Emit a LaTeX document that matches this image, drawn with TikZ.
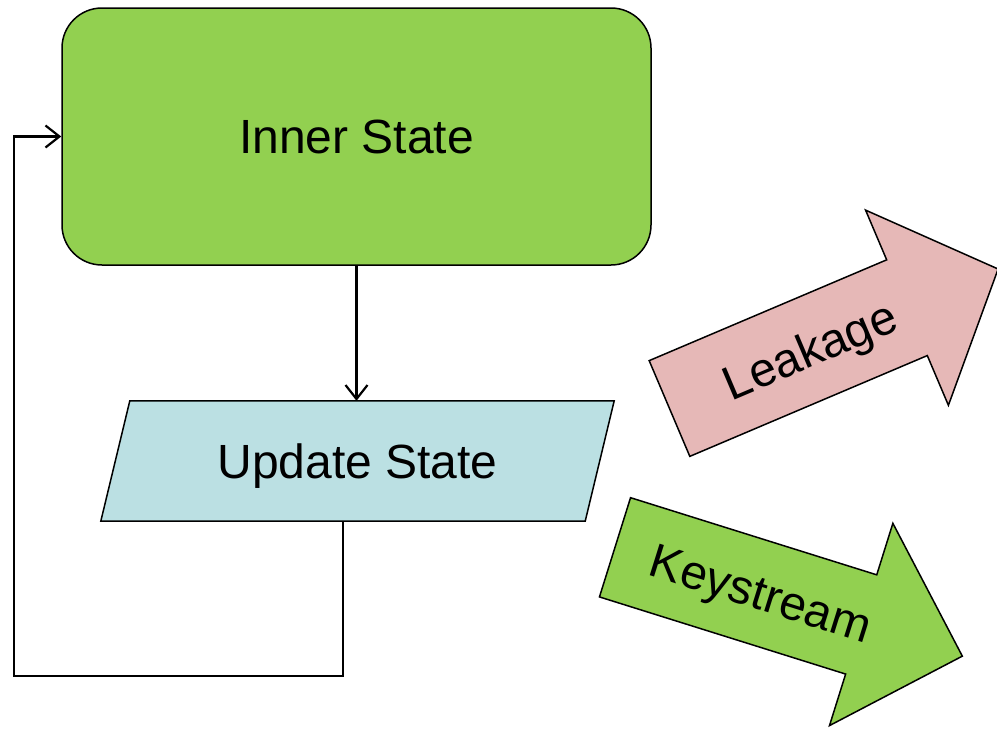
\documentclass[tikz,border=0pt]{standalone}
\usepackage{fontspec}
\setmainfont{Liberation Sans}
\usetikzlibrary{arrows.meta,backgrounds}

\definecolor{stategreen}{HTML}{92D050}
\definecolor{updateblue}{HTML}{BBE0E3}
\definecolor{leakpink}{HTML}{E6B8B7}

\tikzset{
  box/.style={draw, line width=1.5pt},
  bigtext/.style={font=\fontsize{48}{56}\selectfont, text depth=0pt},
  flow/.style={line width=2.2pt, -{Straight Barb[length=14pt,width=22pt]}},
  fatarrow/.style={draw, line width=1.5pt, line join=miter},
}

\begin{document}
\begin{tikzpicture}[x=1pt, y=-1pt]
    \useasboundingbox (0,0) rectangle (997,729);

    % the state block
    \node[box, bigtext, fill=stategreen, rounded corners=40pt,
          minimum width=589pt, minimum height=257pt] (inner) at (356.5,136.5) {Inner State};

    % update step (slanted box sits behind its text)
    \node[bigtext, minimum width=484pt, minimum height=120pt] (update) at (357.5,461) {Update State};
    \begin{scope}[on background layer]
        \draw[box, fill=updateblue]
            ([xshift=14.5pt]update.north west) -- ([xshift=14.5pt]update.north east)
            -- ([xshift=-14.5pt]update.south east) -- ([xshift=-14.5pt]update.south west) -- cycle;
    \end{scope}

    % connectors and the feedback loop
    \coordinate (out) at ([xshift=-14.5pt]update.south);
    \coordinate (loop) at (14,676);
    \draw[flow] (inner.south) -- (inner.south |- update.north);
    \draw[flow] (out) |- (loop) |- (inner.west);

    % outputs
    \begin{scope}[shift={(669.5,408.5)}, rotate=23]
        \draw[fatarrow, fill=leakpink] (0,-52) -- (258,-52) -- (258,-106) -- (357,0)
            -- (258,106) -- (258,52) -- (0,52) -- cycle;
        \node[bigtext, transform shape] (leak) at (152,0) {Leakage};
    \end{scope}
    \begin{scope}[shift={(615,547.3)}, rotate=-17.4]
        \draw[fatarrow, fill=stategreen] (0,-52) -- (258,-52) -- (258,-106) -- (364,0)
            -- (258,106) -- (258,52) -- (0,52) -- cycle;
        \node[bigtext, transform shape] (keys) at (153,0) {Keystream};
    \end{scope}
\end{tikzpicture}
\end{document}
